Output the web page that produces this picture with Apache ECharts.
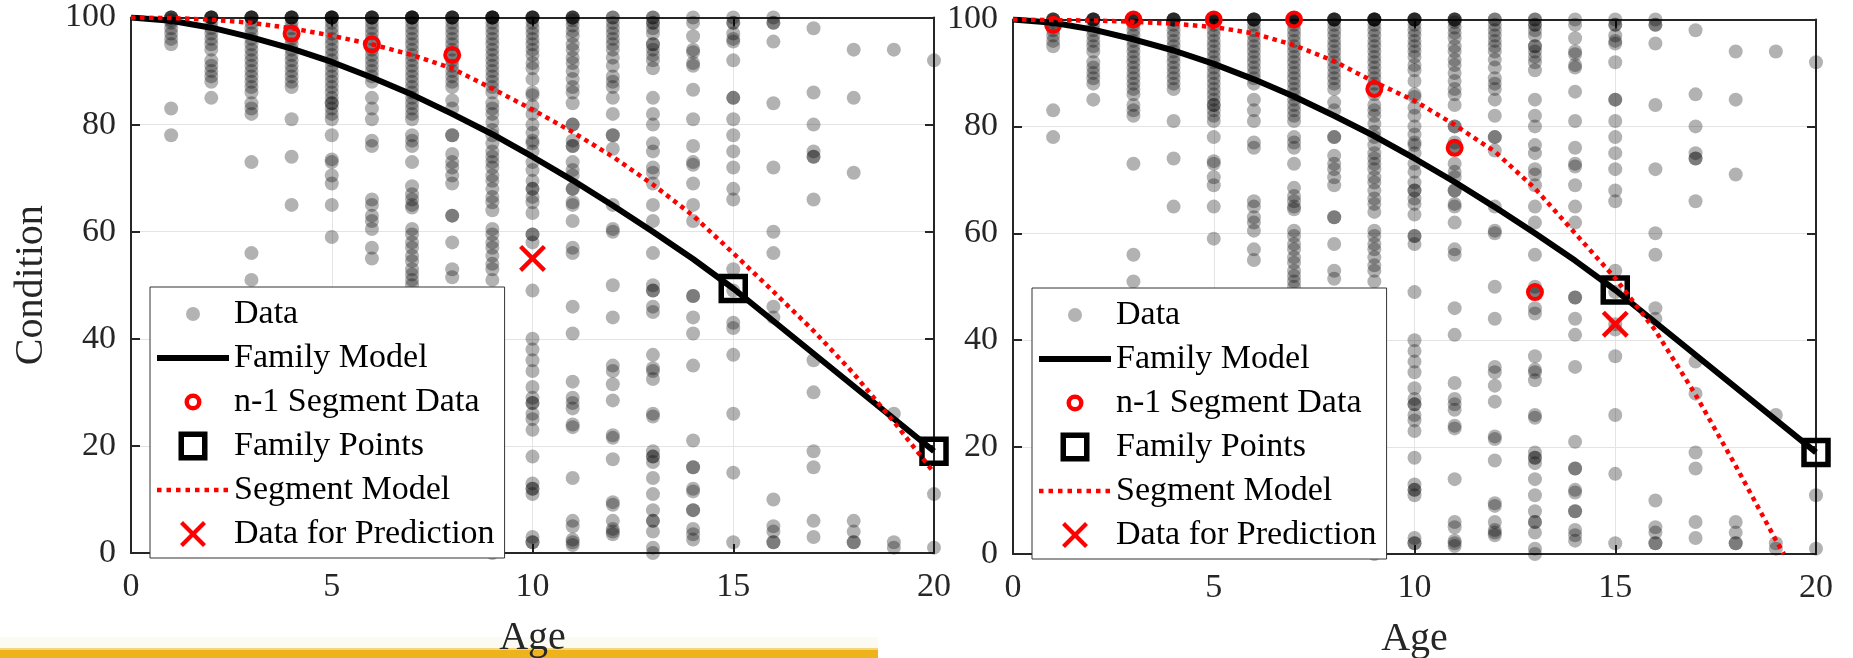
<!DOCTYPE html>
<html>
<head>
<meta charset="utf-8">
<title>Condition vs Age</title>
<script src="https://cdn.jsdelivr.net/npm/echarts@6.0.0/dist/echarts.min.js"></script>
<style>
    html, body { margin: 0; padding: 0; background: #fff; }
    #chart { width: 1853px; height: 658px; }
</style>
</head>
<body>
<div id="chart"></div>
<script>
// observed condition values, one list per age column
var dataAges = [1, 2, 3, 4, 5, 6, 7, 8, 9, 10, 11, 12, 13, 14, 15, 16, 17, 18, 19, 20];
var dataCond = [
    [100, 100, 100, 100, 99.5, 99, 98, 97, 96, 95, 83, 78],
    [100, 100, 100, 100, 100, 99, 98, 97, 96, 95, 94, 92, 91, 90, 89, 88, 85],
    [100, 100, 100, 100, 100, 99, 98, 97, 96, 95, 94, 93, 92, 91, 90, 89, 88, 87, 86, 84, 83, 82, 73, 56, 51],
    [100, 100, 100, 100, 100, 99, 98, 97, 96, 95, 94, 93, 92, 91, 90, 89, 88, 87, 81, 74, 65],
    [100, 100, 100, 100, 100, 100, 99, 98, 97, 96, 95, 94, 93, 92, 91, 90, 89, 88, 87, 86, 85, 84, 84, 83, 82, 81, 78, 73.5, 73, 70.5, 69, 65, 59],
    [100, 100, 100, 100, 100, 99, 98, 97, 96, 95, 94, 93, 92, 91, 90, 89, 88, 85, 83, 81, 77, 76, 66, 65, 63, 62, 60.5, 57, 55],
    [100, 100, 100, 100, 100, 100, 99, 98, 97, 96, 95, 94, 93, 92, 91, 90, 89, 88, 87, 86, 85, 84, 83, 82, 81, 78, 77, 76, 73, 68.5, 67, 66, 65, 64.5, 60.5, 59.5, 58, 57, 55.5, 54.5, 53, 52, 51, 50],
    [100, 100, 100, 100, 100, 99, 98, 97, 96, 95, 94, 93, 92, 91, 90, 89, 88, 87, 84.5, 83, 78, 78, 74.5, 73, 72, 70.5, 69, 63, 63, 58, 53, 51.5, 4],
    [100, 100, 100, 100, 100, 100, 99, 98, 97, 96, 95, 94, 93, 92, 91, 90, 89, 88, 87, 86, 84, 83, 82, 80.5, 79, 78, 76.5, 75, 74, 73, 72, 70.5, 69.5, 68, 66.5, 65.5, 64, 60.5, 59.5, 58, 57, 55.5, 54, 53, 51, 3, 1.5, 0.5, 0],
    [100, 100, 100, 100, 100, 99, 98, 97, 96, 95, 94, 93, 91.5, 90.5, 88.5, 86, 85.5, 83.5, 82, 80, 78.5, 77, 76.5, 75, 73, 71.5, 69.5, 68, 68, 66.5, 65.5, 63.5, 59.5, 59.5, 58, 49, 40, 38, 36, 34, 31, 29, 28, 28, 26, 25, 23, 18, 13, 12, 12, 11, 3, 2, 2],
    [100, 100, 100, 100, 99.5, 98.5, 97.5, 96.5, 95, 94, 92.5, 91.5, 90, 88.5, 87, 86, 84, 80, 80, 77, 76, 76, 73, 71.5, 70.5, 68, 68, 65.5, 65, 62, 57, 56, 46, 41, 32, 29, 28, 27, 24, 23.5, 14, 6, 5, 2.5, 2, 1.5],
    [100, 100, 99, 98, 97, 96, 95, 94, 92.5, 91, 89, 88, 87, 85, 82, 78, 78, 75.5, 65, 60.5, 60, 50, 44, 35, 34, 31.5, 28.5, 22, 21.5, 17.5, 9.5, 9, 6, 4.5, 4, 3.5],
    [100, 100, 99, 99, 98, 97, 95, 95, 94, 93, 92, 90.5, 85, 82, 80, 76.5, 75, 72, 71, 69, 65, 62, 56, 50, 49, 49, 46, 45, 37, 34.5, 34, 32.5, 26, 25.5, 19, 18, 18, 17, 14, 11, 8, 6, 6, 4, 1, 0],
    [100, 99, 96.5, 94, 93.5, 91.5, 91, 86.5, 81, 76, 73, 72.5, 69, 65, 62, 48, 48, 44, 41, 35, 21, 16, 16, 12, 11.5, 8, 8, 4.5, 3.5, 2.5],
    [100, 99, 99, 97, 96, 95.5, 92, 85, 85, 81, 78, 75, 72, 68, 66, 53, 49, 43, 42, 37, 26, 15, 2],
    [100, 99, 99, 95.5, 84, 72, 60, 56, 46, 44, 10, 5, 4, 2, 2],
    [98, 86, 80, 75, 74, 74, 66, 36, 30, 19, 16, 6, 3],
    [94, 85, 71, 6, 4, 2, 2],
    [94, 26, 2, 1],
    [92, 11, 1]
];

// family model curve and its two anchor points
var familyAge = [0, 1, 2, 3, 4, 5, 6, 7, 8, 9, 10, 11, 12, 13, 14, 15, 20];
var familyCond = [100, 99.4, 98.1, 96.3, 94.2, 91.7, 88.8, 85.6, 82, 78.2, 74, 69.6, 64.9, 60, 54.9, 49.4, 19];
var familyPtAge = [15, 20];
var familyPtCond = [49.4, 19];

// left panel: segment model, n-1 data, prediction
var segAgeL = [0, 1, 2, 3, 4, 5, 6, 7, 8, 9, 10, 11, 12, 13, 14, 15, 16, 17, 18, 19, 20];
var segCondL = [100, 99.9, 99.6, 99, 98, 96.6, 95, 93, 90.5, 86.7, 82.8, 78.6, 74, 68.8, 63, 56, 48.8, 41.5, 33.5, 24.5, 15];
var n1AgeL = [4, 6, 8];
var n1CondL = [97, 95, 93];
var predAgeL = [10];
var predCondL = [55];

// right panel
var segAgeR = [0, 1, 2, 3, 4, 5, 6, 7, 8, 9, 10, 11, 12, 13, 14, 15, 16, 17, 18, 19, 19.2];
var segCondR = [100, 99.9, 99.8, 99.6, 99.2, 98.6, 97.4, 95.2, 92.2, 88.3, 84.8, 80.3, 75.3, 68.4, 60, 51.6, 41.8, 29.8, 16.5, 2.6, 0];
var n1AgeR = [1, 3, 5, 7, 9, 11, 13];
var n1CondR = [99, 100, 100, 100, 87, 76, 49];
var predAgeR = [15];
var predCondR = [43];

var legendNames = ['Data', 'Family Model', 'n-1 Segment Data', 'Family Points', 'Segment Model', 'Data for Prediction'];

var FONT = 'Liberation Serif';
var AXIS = '#262626';
var X_PATH = 'path://M2,5L5,2L15,12L25,2L28,5L18,15L28,25L25,28L15,18L5,28L2,25L12,15Z';

// legend icons, padded to a 30px box so they keep their own size
var legendIcons = [
    'path://M0,0M8,15a7,7 0 1,0 14,0a7,7 0 1,0 -14,0M30,30',
    'path://M0,0M0,12H72V18H0ZM72,30',
    'path://M0,0M6.5,15a8.5,8.5 0 1,0 17,0a8.5,8.5 0 1,0 -17,0ZM11,15a4,4 0 1,1 8,0a4,4 0 1,1 -8,0ZM30,30',
    'path://M0,0M0.5,0.5H29.5V29.5H0.5ZM6,6V24H24V6ZM30,30',
    'path://M0,0M0,12.75h4.5v4.5h-4.5zM9.5,12.75h4.5v4.5h-4.5zM19,12.75h4.5v4.5h-4.5zM28.5,12.75h4.5v4.5h-4.5zM38,12.75h4.5v4.5h-4.5zM47.5,12.75h4.5v4.5h-4.5zM57,12.75h4.5v4.5h-4.5zM66.5,12.75h4.5v4.5h-4.5zM72,30',
    'path://M0,0M2,5L5,2L15,12L25,2L28,5L18,15L28,25L25,28L15,18L5,28L2,25L12,15ZM30,30'
];
var legendColors = ['#b3b3b3', '#000000', '#ff0000', '#000000', '#ff0000', '#ff0000'];

function pairs(xs, ys) {
    var out = [];
    for (var i = 0; i < xs.length; i++) {
        out.push([xs[i], ys[i]]);
    }
    return out;
}

var scatterPts = [];
for (var a = 0; a < dataAges.length; a++) {
    for (var k = 0; k < dataCond[a].length; k++) {
        scatterPts.push([dataAges[a], dataCond[a][k]]);
    }
}

function bottomX(gi) {
    return {
        type: 'value', gridIndex: gi, position: 'bottom', min: 0, max: 20, interval: 5,
        name: 'Age', nameLocation: 'middle', nameGap: 65,
        nameTextStyle: {fontFamily: FONT, fontSize: 40, color: AXIS},
        axisLine: {show: true, onZero: false, lineStyle: {color: AXIS, width: 2}},
        axisTick: {show: true, inside: true, length: 9, lineStyle: {color: AXIS, width: 2}},
        axisLabel: {fontFamily: FONT, fontSize: 34, color: AXIS, margin: 17},
        splitLine: {show: true, lineStyle: {color: '#e4e4e4', width: 1}}
    };
}

function topX(gi) {
    return {
        type: 'value', gridIndex: gi, position: 'top', min: 0, max: 20, interval: 5,
        axisLine: {show: true, onZero: false, lineStyle: {color: AXIS, width: 2}},
        axisTick: {show: true, inside: true, length: 9, lineStyle: {color: AXIS, width: 2}},
        axisLabel: {show: false},
        splitLine: {show: false}
    };
}

function leftY(gi, title) {
    return {
        type: 'value', gridIndex: gi, position: 'left', min: 0, max: 100, interval: 20,
        name: title, nameLocation: 'middle', nameGap: 80, nameRotate: 90,
        nameTextStyle: {fontFamily: FONT, fontSize: 40, color: AXIS},
        axisLine: {show: true, onZero: false, lineStyle: {color: AXIS, width: 2}},
        axisTick: {show: true, inside: true, length: 9, lineStyle: {color: AXIS, width: 2}},
        axisLabel: {fontFamily: FONT, fontSize: 34, color: AXIS, margin: 15},
        splitLine: {show: true, lineStyle: {color: '#e4e4e4', width: 1}}
    };
}

function rightY(gi) {
    return {
        type: 'value', gridIndex: gi, position: 'right', min: 0, max: 100, interval: 20,
        axisLine: {show: true, onZero: false, lineStyle: {color: AXIS, width: 2}},
        axisTick: {show: true, inside: true, length: 9, lineStyle: {color: AXIS, width: 2}},
        axisLabel: {show: false},
        splitLine: {show: false}
    };
}

function makeLegend(left, top) {
    var txt = {fontFamily: FONT, fontSize: 34, color: '#000', lineHeight: 30};
    return {
        orient: 'vertical', left: left, top: top, align: 'left',
        padding: [10, 10, 7, 7], itemGap: 10, itemWidth: 72, itemHeight: 30,
        backgroundColor: '#fff', borderColor: '#333', borderWidth: 1,
        selectedMode: false, symbolKeepAspect: true,
        textStyle: txt,
        data: legendNames.map(function (n, i) {
            return {
                name: n, icon: legendIcons[i], textStyle: txt,
                itemStyle: {color: legendColors[i], borderWidth: 0, opacity: 1}
            };
        })
    };
}

function panelSeries(gi, segAge, segCond, n1Age, n1Cond, predAge, predCond) {
    var ax = gi * 2;
    return [
        {
            name: 'Data', type: 'scatter', xAxisIndex: ax, yAxisIndex: ax,
            data: scatterPts, symbol: 'circle', symbolSize: 14, clip: false, silent: true,
            itemStyle: {color: '#000', opacity: 0.3}
        },
        {
            name: 'Family Model', type: 'line', xAxisIndex: ax, yAxisIndex: ax,
            data: pairs(familyAge, familyCond), symbol: 'none', silent: true,
            lineStyle: {color: '#000', width: 6}
        },
        {
            name: 'n-1 Segment Data', type: 'scatter', xAxisIndex: ax, yAxisIndex: ax,
            data: pairs(n1Age, n1Cond), symbol: 'circle', symbolSize: 14, clip: false, silent: true,
            itemStyle: {color: 'rgba(0,0,0,0)', borderColor: '#ff0000', borderWidth: 4, opacity: 1}
        },
        {
            name: 'Family Points', type: 'scatter', xAxisIndex: ax, yAxisIndex: ax,
            data: pairs(familyPtAge, familyPtCond), symbol: 'rect', symbolSize: 24, clip: false, silent: true,
            itemStyle: {color: 'rgba(0,0,0,0)', borderColor: '#000', borderWidth: 5.5, opacity: 1}
        },
        {
            name: 'Segment Model', type: 'line', xAxisIndex: ax, yAxisIndex: ax,
            data: pairs(segAge, segCond), symbol: 'none', silent: true,
            lineStyle: {color: '#ff0000', width: 4.5, type: [4.5, 4.5]}
        },
        {
            name: 'Data for Prediction', type: 'scatter', xAxisIndex: ax, yAxisIndex: ax,
            data: pairs(predAge, predCond), symbol: X_PATH, symbolSize: 27, clip: false, silent: true,
            itemStyle: {color: '#ff0000', opacity: 1}
        }
    ];
}

var myChart = echarts.init(document.getElementById('chart'));

var option = {
    animation: false,
    backgroundColor: '#fff',
    textStyle: {fontFamily: FONT},
    grid: [
        {left: 131, right: 919, top: 17.5, bottom: 105, outerBoundsMode: 'none'},
        {left: 1013, right: 37, top: 19.5, bottom: 104, outerBoundsMode: 'none'}
    ],
    xAxis: [bottomX(0), topX(0), bottomX(1), topX(1)],
    yAxis: [leftY(0, 'Condition'), rightY(0), leftY(1, ''), rightY(1)],
    legend: [makeLegend(150, 287), makeLegend(1032, 288)],
    // gold strip along the bottom edge of the source slide
    graphic: [
        {type: 'rect', z: -10, silent: true, shape: {x: 0, y: 637, width: 878, height: 11}, style: {fill: '#fbfbf4'}},
        {type: 'rect', z: -10, silent: true, shape: {x: 0, y: 648, width: 878, height: 2}, style: {fill: '#f6d67c'}},
        {type: 'rect', z: -10, silent: true, shape: {x: 0, y: 650, width: 878, height: 8}, style: {fill: '#eeb31b'}}
    ],
    series: panelSeries(0, segAgeL, segCondL, n1AgeL, n1CondL, predAgeL, predCondL)
        .concat(panelSeries(1, segAgeR, segCondR, n1AgeR, n1CondR, predAgeR, predCondR))
};

myChart.setOption(option);
</script>
</body>
</html>
